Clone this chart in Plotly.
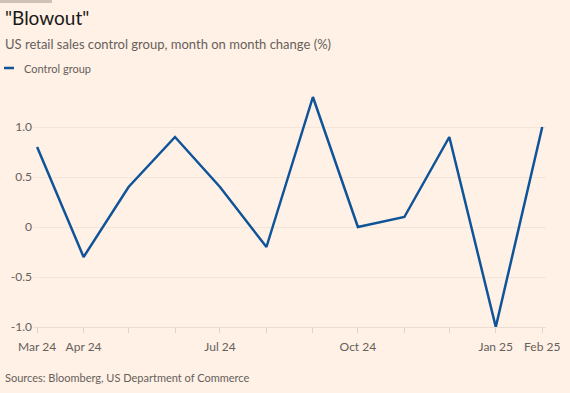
import plotly.graph_objects as go

months = ["2024-03-01", "2024-04-01", "2024-05-01", "2024-06-01", "2024-07-01", "2024-08-01",
          "2024-09-01", "2024-10-01", "2024-11-01", "2024-12-01", "2025-01-01", "2025-02-01"]
control_group = [0.8, -0.3, 0.4, 0.9, 0.4, -0.2, 1.3, 0.0, 0.1, 0.9, -1.0, 1.0]
tick_labels = ["Mar 24", "Apr 24", "", "", "Jul 24", "", "", "Oct 24", "", "", "Jan 25", "Feb 25"]
y_ticks = [-1.0, -0.5, 0, 0.5, 1.0]
y_tick_text = ["-1.0", "-0.5", "0", "0.5", "1.0"]

BG = "#FFF1E5"
LINE = "#0F5499"
MUTED = "#66605C"
FONT = "Lato"

fig = go.Figure()
fig.add_trace(go.Scatter(x=months, y=control_group, mode="lines",
                         line=dict(color=LINE, width=2.5), name="Control group",
                         showlegend=False))

fig.update_layout(
    width=570, height=393,
    paper_bgcolor=BG, plot_bgcolor=BG,
    margin=dict(l=33, r=24, t=92, b=66, autoexpand=False),
    font=dict(family=FONT, color=MUTED, size=12),
    xaxis=dict(
        type="date",
        range=["2024-02-27 06:00", "2025-02-03 12:00"],
        tickvals=months, ticktext=tick_labels,
        ticks="outside", ticklen=5, tickcolor="#E0D3C8", tickwidth=1,
        ticklabelstandoff=4, automargin=False,
        showgrid=False, showline=True, linecolor="#EADDD2", linewidth=1,
        zeroline=False, tickfont=dict(size=12, color=MUTED),
    ),
    yaxis=dict(
        range=[-1.0, 1.35],
        tickvals=y_ticks, ticktext=y_tick_text,
        showgrid=True, gridcolor="#F5E5D8", gridwidth=1,
        automargin=False,
        zeroline=False, showline=False, ticks="",
        tickfont=dict(size=12, color=MUTED),
    ),
)

# top rule
fig.add_shape(type="rect", xref="paper", yref="paper",
              x0=-33/513, x1=(52-33)/513, y0=1 + (92-3)/235, y1=1 + 92/235,
              line=dict(width=0), fillcolor="#CEC1B6")
# legend swatch
fig.add_shape(type="line", xref="paper", yref="paper",
              x0=(4-33)/513, x1=(14-33)/513, y0=1 + (92-68)/235, y1=1 + (92-68)/235,
              line=dict(color=LINE, width=2.5))

annotations = [
    dict(text='"Blowout"', x=3, y=17, size=19, color="#1A1817"),
    dict(text="US retail sales control group, month on month change (%)", x=3, y=44, size=13, color=MUTED),
    dict(text="Control group", x=22, y=68, size=11, color=MUTED),
    dict(text="Sources: Bloomberg, US Department of Commerce", x=3, y=377, size=11, color=MUTED),
]
for a in annotations:
    fig.add_annotation(text=a["text"], xref="paper", yref="paper",
                       x=(a["x"]-33)/513, y=1 + (92 - a["y"])/235,
                       xanchor="left", yanchor="middle", showarrow=False,
                       font=dict(family=FONT, size=a["size"], color=a["color"]))

fig.write_html("out.html", config={"displayModeBar": False},
               post_script="document.body.style.margin='0';document.body.style.overflow='hidden';")
